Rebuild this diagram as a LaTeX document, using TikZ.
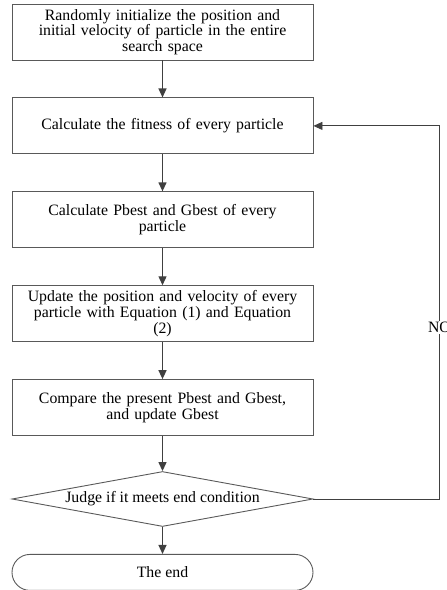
\documentclass[tikz,border=0pt]{standalone}
\usepackage{fontspec}
\setmainfont{Liberation Serif}
\usetikzlibrary{positioning,shapes.geometric,arrows.meta}

\tikzset{
  procbox/.style={draw=black!65, line width=0.9pt, rectangle, minimum width=301pt,
    minimum height=56pt, text width=296pt, align=center, inner sep=0pt},
  judgebox/.style={draw=black!65, line width=0.9pt, diamond, aspect=5.5,
    minimum width=301pt, minimum height=55pt, inner sep=0pt},
  endbox/.style={draw=black!65, line width=0.9pt, rectangle, rounded corners=18pt,
    minimum width=301pt, minimum height=36pt, align=center},
  flow/.style={draw=black!75, line width=1.3pt, -{Triangle[length=9pt,width=8pt]}},
}

\begin{document}
\begin{tikzpicture}[font=\fontsize{15.8}{15.8}\selectfont, node distance=37pt]
  \useasboundingbox (0,0) rectangle (447pt,-590pt);
    \node[procbox] (init) at (162.5pt,-32pt)
      {Randomly initialize the position and\\initial velocity of particle in the entire\\search space};
    \node[procbox, below=of init] (fitness) {Calculate the fitness of every particle};
    \node[procbox, below=of fitness] (best) {Calculate Pbest and Gbest of every\\particle};
    \node[procbox, below=of best] (update)
      {Update the position and velocity of every\\particle with Equation (1) and Equation\\(2)};
    \node[procbox, below=of update] (compare) {Compare the present Pbest and Gbest,\\and update Gbest};
    \node[judgebox, below=35pt of compare] (judge) {Judge if it meets end condition};
    \node[endbox, below=27pt of judge] (stop) {The end};
  \draw[flow] (init) -- (fitness);
  \draw[flow] (fitness) -- (best);
  \draw[flow] (best) -- (update);
  \draw[flow] (update) -- (compare);
  \draw[flow] (compare) -- (judge);
  \draw[flow] (judge) -- (stop);
  \draw[flow, line width=0.9pt] (judge.east) -- ++(126pt,0) |- (fitness.east)
    node[pos=0.23, fill=white, inner sep=1pt] {NO};
\end{tikzpicture}
\end{document}
